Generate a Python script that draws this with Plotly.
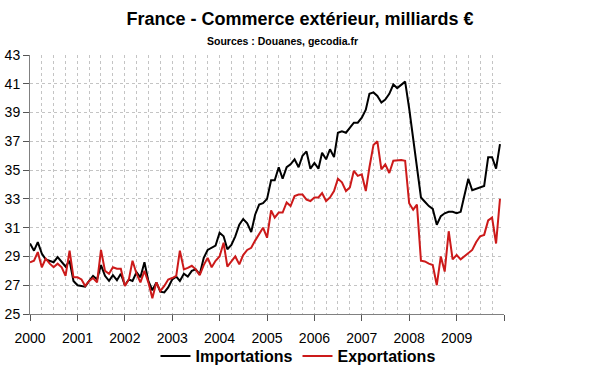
import pandas as pd
import plotly.graph_objects as go

months = pd.date_range("2000-01-01", periods=120, freq="MS")

importations = [
    29.9, 29.4, 30.0, 29.2, 28.8, 28.7, 28.6, 28.95, 28.65, 28.3, 28.7, 27.3,
    27.0, 26.95, 26.9, 27.3, 27.65, 27.4, 28.4, 27.65, 27.3, 27.7, 27.35, 27.8,
    27.0, 27.4, 27.3, 27.9, 27.55, 28.6, 27.3, 26.65, 27.2, 26.55, 26.5, 26.85,
    27.4, 27.6, 27.3, 27.8, 27.6, 28.0, 28.1, 27.75, 28.9, 29.45, 29.6, 29.75,
    30.65, 30.4, 29.5, 29.8, 30.4, 31.2, 31.6, 31.3, 30.7, 31.9, 32.6, 32.7,
    33.0, 34.3, 34.3, 35.2, 34.4, 35.2, 35.4, 35.75, 35.2, 36.0, 36.3, 35.1,
    35.5, 35.1, 36.2, 35.75, 36.45, 35.9, 37.6, 37.7, 37.6, 37.95, 38.3, 38.3,
    38.65, 39.2, 40.3, 40.4, 40.15, 39.7, 39.9, 40.3, 40.95, 40.7, 40.95, 41.15,
    39.3, 37.3, 35.2, 33.1, 32.8, 32.5, 32.3, 31.2, 31.8, 32.0, 32.1, 32.1,
    32.0, 32.1, 33.2, 34.4, 33.6, 33.7, 33.8, 33.9, 35.9, 35.9, 35.1, 36.8,
]

exportations = [
    28.6, 28.7, 29.3, 28.25, 28.85, 28.5, 28.25, 28.5, 28.25, 27.65, 29.4, 27.55,
    27.55, 27.4, 26.95, 27.3, 27.5, 27.2, 29.45, 28.0, 27.8, 28.25, 28.15, 28.15,
    26.95, 27.4, 28.7, 27.8, 27.2, 28.0, 27.2, 26.1, 27.2, 26.6, 26.95, 27.4,
    27.5, 27.65, 29.4, 28.1, 28.2, 28.35, 28.1, 27.7, 28.4, 28.9, 28.25, 28.7,
    29.0, 29.95, 28.3, 28.65, 29.0, 28.45, 29.1, 29.45, 29.6, 30.1, 30.6, 31.0,
    30.3, 32.2, 31.7, 32.05, 32.05, 32.75, 32.5, 33.2, 33.3, 33.3, 32.95, 32.85,
    33.1, 33.1, 33.4, 32.85, 33.1, 33.55, 34.4, 34.15, 33.55, 33.8, 34.95, 34.6,
    34.7, 33.55, 35.2, 36.75, 37.0, 35.05, 35.4, 34.8, 35.65, 35.7, 35.7, 35.65,
    32.7, 32.25, 32.6, 28.7, 28.65, 28.5, 28.4, 27.0, 29.0, 27.95, 30.75, 28.8,
    29.1, 28.8, 29.0, 29.2, 29.45, 30.0, 30.4, 30.5, 31.5, 31.7, 29.9, 33.0,
]

year_ticks = [f"{y}-01-01" for y in range(2000, 2011)]
year_labels = [str(y) for y in range(2000, 2010)] + [""]
y_ticks = list(range(25, 44, 2))

FONT = "Arial, Liberation Sans, sans-serif"
GRID = "#c4c4c4"

fig = go.Figure()
fig.add_trace(go.Scatter(x=months, y=importations, mode="lines", name="<b>Importations</b>",
                         line=dict(color="#000000", width=2)))
fig.add_trace(go.Scatter(x=months, y=exportations, mode="lines", name="<b>Exportations</b>",
                         line=dict(color="#cc1a1a", width=2)))

fig.update_layout(
    width=600, height=372,
    margin=dict(l=30, r=96, t=55, b=58, autoexpand=False),
    paper_bgcolor="white", plot_bgcolor="white",
    font=dict(family=FONT, color="#000000", size=14),
    hovermode=False,
    title=dict(text="<b>France - Commerce extérieur, milliards €</b>",
               x=300 / 600, xref="container", xanchor="center",
               y=1 - 19 / 372, yref="container", yanchor="middle",
               font=dict(size=18, family=FONT, color="#000000")),
    annotations=[dict(text="<b>Sources : Douanes, gecodia.fr</b>",
                      xref="paper", yref="paper",
                      x=0.532, y=1.054,
                      xanchor="center", yanchor="middle", showarrow=False,
                      font=dict(size=10.5, family=FONT, color="#000000"))],
    showlegend=True,
    legend=dict(orientation="h", xref="container", yref="container",
                x=298 / 600, xanchor="center",
                y=1 - 356 / 372, yanchor="middle",
                font=dict(size=16, family=FONT, color="#000000"),
                itemwidth=30, bgcolor="rgba(0,0,0,0)",
                tracegroupgap=0),
)

fig.update_xaxes(
    range=["2000-01-01", "2010-01-01"], automargin=False,
    tickmode="array", tickvals=year_ticks, ticktext=year_labels,
    ticks="outside", ticklen=6, tickcolor="#555555", tickwidth=1,
    ticklabelstandoff=5,
    showline=True, linecolor="#808080", linewidth=1,
    showgrid=True, gridcolor=GRID, griddash="3px,3px", gridwidth=1,
    minor=dict(dtick="M3", showgrid=True, gridcolor=GRID, griddash="3px,3px", gridwidth=1),
    tickfont=dict(size=14, family=FONT, color="#000000"),
    zeroline=False,
)
fig.update_yaxes(
    range=[25, 43], automargin=False, tickmode="array", tickvals=y_ticks,
    ticks="outside", ticklen=6, tickcolor="#555555", tickwidth=1,
    showline=True, linecolor="#808080", linewidth=1,
    showgrid=True, gridcolor=GRID, griddash="3px,3px", gridwidth=1,
    tickfont=dict(size=14, family=FONT, color="#000000"),
    zeroline=False,
)

fig.write_html("out.html", config={"displayModeBar": False, "staticPlot": True},
               post_script="document.body.style.margin='0';")
